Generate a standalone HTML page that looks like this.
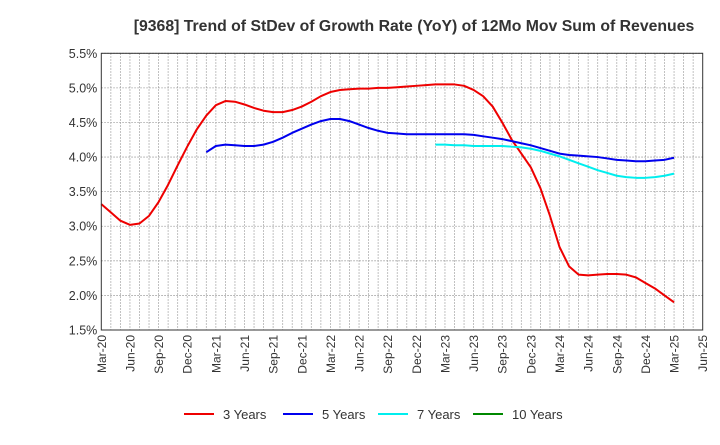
<!DOCTYPE html>
<html><head><meta charset="utf-8"><style>
body{margin:0;background:#fff;font-family:"Liberation Sans",sans-serif}
svg text{font-family:"Liberation Sans",sans-serif}
</style></head><body>
<svg id="chart" width="720" height="440" xmlns="http://www.w3.org/2000/svg">
<text x="414" y="31" text-anchor="middle" font-size="15.8" font-weight="bold" fill="#333">[9368]  Trend of StDev of Growth Rate (YoY) of 12Mo Mov Sum of Revenues</text>
<g id="grid"></g><g id="series"></g><g id="axes"></g>
<g id="legend"></g>
</svg>
<script>
const xLabels=["Mar-20","Jun-20","Sep-20","Dec-20","Mar-21","Jun-21","Sep-21","Dec-21","Mar-22","Jun-22","Sep-22","Dec-22","Mar-23","Jun-23","Sep-23","Dec-23","Mar-24","Jun-24","Sep-24","Dec-24","Mar-25","Jun-25"];
const yTicks=[1.5,2.0,2.5,3.0,3.5,4.0,4.5,5.0,5.5];
const seriesNames=["3 Years","5 Years","7 Years","10 Years"];
const seriesColors=["#ee0000","#0000ee","#00eeee","#008800"];
const red3=[3.32,3.2,3.08,3.02,3.04,3.15,3.35,3.6,3.88,4.15,4.4,4.6,4.75,4.81,4.8,4.76,4.71,4.67,4.65,4.65,4.68,4.73,4.8,4.88,4.94,4.97,4.98,4.99,4.99,5.0,5.0,5.01,5.02,5.03,5.04,5.05,5.05,5.05,5.03,4.97,4.88,4.73,4.5,4.25,4.05,3.85,3.55,3.15,2.7,2.42,2.3,2.29,2.3,2.31,2.31,2.3,2.26,2.18,2.1,2.0,1.9];
const blue5Start=11;
const blue5=[4.07,4.16,4.18,4.17,4.16,4.16,4.18,4.22,4.28,4.35,4.41,4.47,4.52,4.55,4.55,4.52,4.47,4.42,4.38,4.35,4.34,4.33,4.33,4.33,4.33,4.33,4.33,4.33,4.32,4.3,4.28,4.26,4.23,4.2,4.17,4.13,4.09,4.05,4.03,4.02,4.01,4.0,3.98,3.96,3.95,3.94,3.94,3.95,3.96,3.99];
const cyan7Start=35;
const cyan7=[4.18,4.18,4.17,4.17,4.16,4.16,4.16,4.16,4.15,4.14,4.12,4.09,4.05,4.01,3.96,3.91,3.86,3.81,3.77,3.73,3.71,3.7,3.7,3.71,3.73,3.76];
const X0=101.3,X1=702.7,Y0=53.3,Y1=330;
const xm=m=>X0+(X1-X0)*m/63;
const y=v=>Y1-(v-1.5)/4*(Y1-Y0);
const NS="http://www.w3.org/2000/svg";
function mk(t,a,p){const e=document.createElementNS(NS,t);for(const k in a)e.setAttribute(k,a[k]);p.appendChild(e);return e;}
const grid=document.getElementById('grid'),axes=document.getElementById('axes'),ser=document.getElementById('series'),leg=document.getElementById('legend');
for(let m=1;m<63;m++){const l=mk('line',{x1:xm(m),x2:xm(m),y1:Y0,y2:Y1,stroke:'#999','stroke-width':0.8,'stroke-dasharray':'1.5,1.5'},grid);

}
yTicks.forEach(v=>{const l=mk('line',{x1:X0,x2:X1,y1:y(v),y2:y(v),stroke:'#999','stroke-width':0.8,'stroke-dasharray':'1.5,1.5'},grid);


const t=mk('text',{x:X0-4,y:y(v)+4.5,'text-anchor':'end','font-size':12.5,fill:'#333'},axes);t.textContent=v.toFixed(1)+'%';

});
const fr=mk('rect',{x:X0,y:Y0,width:X1-X0,height:Y1-Y0,fill:'none',stroke:'#333','stroke-width':1},axes);


xLabels.forEach((s,i)=>{const x=xm(i*3);const t=mk('text',{x:0,y:0,'text-anchor':'end','font-size':12,fill:'#333',transform:`translate(${x+4.5},${Y1+5}) rotate(-90)`},axes);t.textContent=s;

});
function line(data,start,color,name){const pts=data.map((v,i)=>xm((start+i))+','+y(v)).join(' ');
const p=mk('polyline',{points:pts,fill:'none',stroke:color,'stroke-width':2,'stroke-linejoin':'round'},ser);

}
line(red3,0,seriesColors[0],'series-3-years');
line(blue5,blue5Start,seriesColors[1],'series-5-years');
line(cyan7,cyan7Start,seriesColors[2],'series-7-years');
const lx=[184,283,378,473];
seriesNames.forEach((n,i)=>{const g=mk('g',{},leg);


mk('line',{x1:lx[i],x2:lx[i]+30,y1:414,y2:414,stroke:seriesColors[i],'stroke-width':2},g);
const t=mk('text',{x:lx[i]+39,y:419,'font-size':13,fill:'#333'},g);t.textContent=n;});
</script>
</body></html>
